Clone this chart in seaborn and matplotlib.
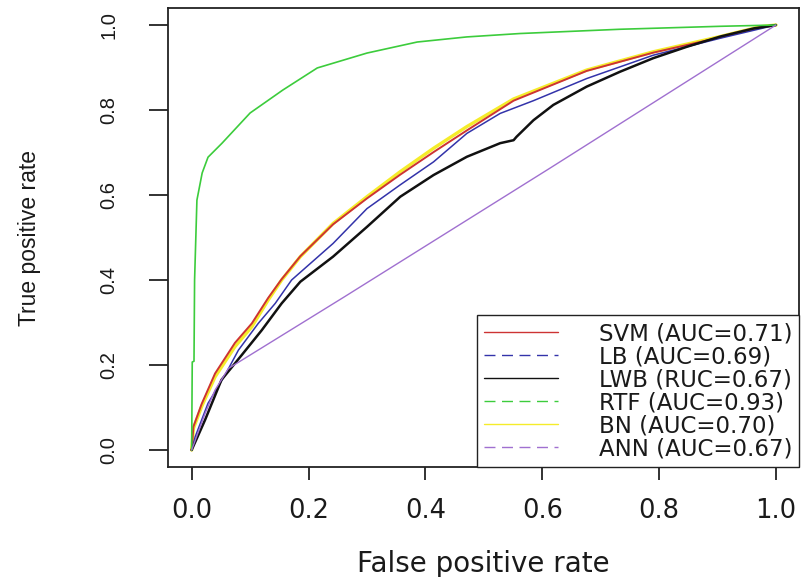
import numpy as np
import pandas as pd
import seaborn as sns
import matplotlib.pyplot as plt
from matplotlib.lines import Line2D

# ROC curves (false positive rate, true positive rate)
svm_fpr = [0, 0.003, 0.017, 0.040, 0.074, 0.103, 0.131, 0.154, 0.186, 0.242, 0.300,
           0.357, 0.414, 0.471, 0.551, 0.676, 0.790, 0.905, 0.973, 1.0]
svm_tpr = [0, 0.055, 0.108, 0.180, 0.252, 0.298, 0.358, 0.402, 0.456, 0.531, 0.592,
           0.648, 0.701, 0.752, 0.822, 0.892, 0.935, 0.971, 0.995, 1.0]

lb_fpr = [0, 0.006, 0.028, 0.057, 0.080, 0.114, 0.143, 0.171, 0.242, 0.300, 0.357,
          0.414, 0.471, 0.528, 0.585, 0.676, 0.790, 0.905, 1.0]
lb_tpr = [0, 0.031, 0.110, 0.176, 0.235, 0.298, 0.345, 0.400, 0.486, 0.568, 0.624,
          0.678, 0.745, 0.792, 0.822, 0.874, 0.929, 0.969, 1.0]

lwb_fpr = [0, 0.023, 0.051, 0.086, 0.120, 0.154, 0.186, 0.242, 0.300, 0.357, 0.414,
           0.471, 0.528, 0.551, 0.556, 0.585, 0.619, 0.676, 0.733, 0.790, 0.848,
           0.905, 0.962, 1.0]
lwb_tpr = [0, 0.071, 0.165, 0.224, 0.282, 0.345, 0.396, 0.455, 0.525, 0.596, 0.647,
           0.690, 0.722, 0.729, 0.737, 0.776, 0.812, 0.855, 0.890, 0.922, 0.949,
           0.973, 0.992, 1.0]

rtf_fpr = [0, 0.001, 0.004, 0.005, 0.009, 0.018, 0.028, 0.052, 0.100, 0.156, 0.215,
           0.300, 0.386, 0.471, 0.562, 0.733, 0.905, 1.0]
rtf_tpr = [0, 0.207, 0.209, 0.400, 0.588, 0.652, 0.689, 0.722, 0.793, 0.847, 0.899,
           0.934, 0.960, 0.972, 0.980, 0.990, 0.997, 1.0]

bn_fpr = [0, 0.003, 0.017, 0.040, 0.074, 0.103, 0.131, 0.154, 0.186, 0.242, 0.300,
          0.357, 0.414, 0.471, 0.551, 0.676, 0.790, 0.905, 0.973, 1.0]
bn_tpr = [0, 0.051, 0.102, 0.172, 0.243, 0.290, 0.353, 0.400, 0.455, 0.533, 0.596,
          0.655, 0.710, 0.761, 0.826, 0.894, 0.937, 0.973, 0.996, 1.0]

ann_fpr = [0, 0.023, 0.040, 0.063, 0.262, 0.613, 1.0]
ann_tpr = [0, 0.086, 0.141, 0.192, 0.361, 0.663, 1.0]

labels = ["SVM (AUC=0.71)", "LB (AUC=0.69)", "LWB (RUC=0.67)",
          "RTF (AUC=0.93)", "BN (AUC=0.70)", "ANN (AUC=0.67)"]
colors = ["#cd3333", "#3333aa", "#111111", "#3ccc3c", "#f5ec2a", "#a070d0"]
legend_dashed = [False, True, False, True, False, True]

sns.set_style("ticks")
plt.rcParams['font.family'] = ['DejaVu Sans']
plt.rcParams['text.color'] = '#1a1a1a'
plt.rcParams['axes.labelcolor'] = '#1a1a1a'
plt.rcParams['xtick.color'] = '#1a1a1a'
plt.rcParams['ytick.color'] = '#1a1a1a'

fig = plt.figure(figsize=(8.01, 5.77), dpi=100)
ax = fig.add_axes([0.2101, 0.1906, 0.7878, 0.7955])

curves = [(svm_fpr, svm_tpr, 0, 1.4), (lb_fpr, lb_tpr, 1, 1.1), (lwb_fpr, lwb_tpr, 2, 1.8),
          (rtf_fpr, rtf_tpr, 3, 1.2), (bn_fpr, bn_tpr, 4, 2.4), (ann_fpr, ann_tpr, 5, 1.0)]
# yellow first so the red one peeks through
for idx in [4, 0, 1, 2, 3, 5]:
    fpr, tpr, ci, lw = curves[idx]
    df = pd.DataFrame({"fpr": fpr, "tpr": tpr})
    sns.lineplot(data=df, x="fpr", y="tpr", color=colors[ci], linewidth=lw,
                 estimator=None, sort=False, ax=ax)

ax.set_xlim(-0.04, 1.04)
ax.set_ylim(-0.04, 1.04)
ticks = np.arange(0, 1.01, 0.2)
ax.set_xticks(ticks)
ax.set_yticks(ticks)
ax.set_xticklabels([f"{t:.1f}" for t in ticks])
ax.set_yticklabels([f"{t:.1f}" for t in ticks], rotation=90, va="center")

for sp in ax.spines.values():
    sp.set_visible(True)
    sp.set_linewidth(1.3)
    sp.set_color("#222222")
ax.tick_params(axis="x", length=9.5, width=1.3, pad=13, labelsize=18.5, color="#222222")
ax.tick_params(axis="y", length=14, width=1.3, pad=22, labelsize=14.5,
               labelfontfamily="Liberation Sans", color="#222222")

ax.set_xlabel("False positive rate", fontsize=20, va="top")
ax.xaxis.set_label_coords(0.5, -0.181)
ax.set_ylabel("True positive rate", fontsize=16.5, family="Liberation Sans")
ax.yaxis.set_label_coords(-0.2017, 0.5)

handles = []
for c, d in zip(colors, legend_dashed):
    if d:
        handles.append(Line2D([], [], color=c, linewidth=1.0, dashes=(7.9, 4.7)))
    else:
        handles.append(Line2D([], [], color=c, linewidth=1.0))
leg = ax.legend(handles, labels, loc="lower right", bbox_to_anchor=(1, 0),
                borderaxespad=0, fontsize=16.5, handlelength=3.2, handletextpad=1.8,
                borderpad=0.3, labelspacing=0.0, fancybox=False, framealpha=1)
leg.get_frame().set_edgecolor("#222222")
leg.get_frame().set_linewidth(1.0)

fig.savefig("out.png", dpi=100)
